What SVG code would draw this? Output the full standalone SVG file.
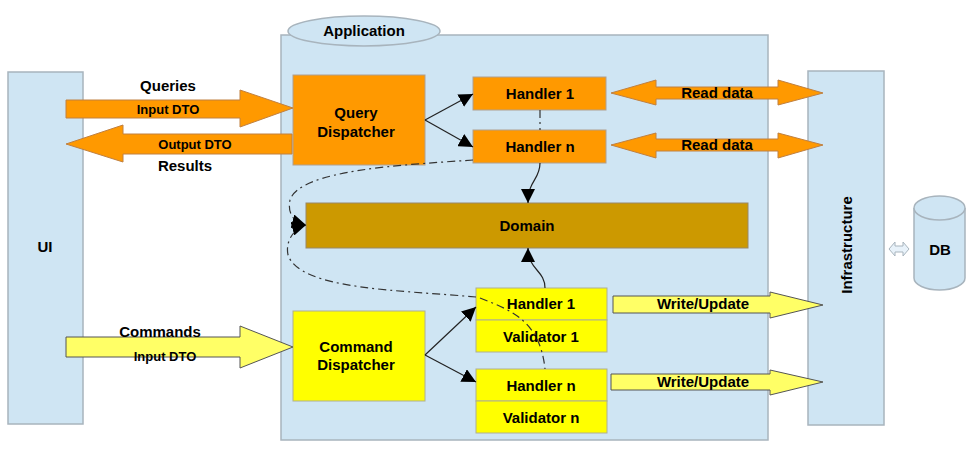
<svg xmlns="http://www.w3.org/2000/svg" width="974" height="449" viewBox="0 0 974 449">
<style>
text{font-family:"Liberation Sans",Arial,sans-serif;font-weight:bold;fill:#000;text-anchor:middle}
.pane{fill:#cfe5f3;stroke:#a8b4bd;stroke-width:1.5}
.or{fill:#ff9900;stroke:#b0a090;stroke-width:1}
.ye{fill:#ffff00;stroke:#b0b090;stroke-width:1}
.ya{fill:#ffff66;stroke:#555;stroke-width:1}
.oa{fill:#ff9900;stroke:#c08040;stroke-width:1}
.c{fill:none;stroke:#222;stroke-width:1.2}
.dd{fill:none;stroke:#333;stroke-width:1.2;stroke-dasharray:8 4 2 4}
</style>
<defs>
<marker id="ah" viewBox="0 0 10 10" refX="10" refY="5" markerWidth="14" markerHeight="14" markerUnits="userSpaceOnUse" orient="auto"><path d="M0,0 L10,5 L0,10 z" fill="#000"/></marker>
</defs>
<g id="ui"><rect class="pane" x="8" y="72" width="75" height="352"/><text x="45" y="252" font-size="15">UI</text></g>
<g id="application"><rect class="pane" x="281" y="35" width="487" height="405"/><ellipse class="pane" cx="364" cy="31" rx="76" ry="15"/><text x="364" y="36" font-size="15">Application</text></g>
<g id="infrastructure"><rect class="pane" x="808" y="71" width="76" height="354"/><text transform="translate(852,245) rotate(-90)" font-size="15">Infrastructure</text></g>
<g id="db"><path class="pane" d="M914,208 v70 a25.5,12 0 0 0 51,0 v-70"/><ellipse class="pane" cx="939.5" cy="208" rx="25.5" ry="12"/><text x="940" y="255" font-size="15">DB</text></g>
<g id="query-dispatcher"><rect class="or" x="293" y="75" width="132" height="90"/><text x="356" y="118" font-size="15">Query</text><text x="356" y="137" font-size="15">Dispatcher</text></g>
<g id="q-handler1"><rect class="or" x="473" y="77" width="133" height="33"/><text x="540" y="99" font-size="15">Handler 1</text></g>
<g id="q-handlern"><rect class="or" x="473" y="130" width="133" height="33"/><text x="540" y="152" font-size="15">Handler n</text></g>
<g id="domain"><rect x="306" y="203" width="442" height="45" fill="#cc9900" stroke="#998866"/><text x="527" y="231" font-size="15">Domain</text></g>
<g id="command-dispatcher"><rect class="ye" x="293" y="311" width="132" height="90"/><text x="356" y="352" font-size="15">Command</text><text x="356" y="370" font-size="15">Dispatcher</text></g>
<g id="c-handler1"><rect class="ye" x="476" y="288" width="131" height="32"/><text x="541" y="309" font-size="15">Handler 1</text><rect class="ye" x="476" y="320" width="131" height="32"/><text x="541" y="342" font-size="15">Validator 1</text></g>
<g id="c-handlern"><rect class="ye" x="476" y="369" width="131" height="32"/><text x="541" y="391" font-size="15">Handler n</text><rect class="ye" x="476" y="401" width="131" height="32"/><text x="541" y="423" font-size="15">Validator n</text></g>
<g id="connectors">
<path class="oa" d="M66,100 H240 V90 L293,108 L240,127 V118 H66 Z"/><text x="168" y="114" font-size="13">Input DTO</text>
<text x="168" y="91" font-size="15">Queries</text>
<path class="oa" d="M292,134 H123 V125 L66,144 L123,162 V154 H292 Z"/><text x="195" y="149" font-size="13">Output DTO</text>
<text x="185" y="171" font-size="15">Results</text>
<path class="ya" d="M66,337 H240 V326 L293,347 L240,368 V357 H66 Z"/><text x="165" y="361" font-size="13">Input DTO</text>
<text x="160" y="337" font-size="15">Commands</text>
<path class="oa" d="M611,93 L656,80 V87 H778 V80 L823,93 L778,105 V99 H656 V105 Z"/><text x="717" y="98" font-size="15">Read data</text>
<path class="oa" d="M611,145 L656,133 V139 H778 V133 L823,145 L778,158 V151 H656 V158 Z"/><text x="717" y="150" font-size="15">Read data</text>
<path class="ya" d="M613,296 H770 V292 L823,305 L770,318 V313 H613 Z"/><text x="703" y="309" font-size="15">Write/Update</text>
<path class="ya" d="M611,374 H770 V370 L823,382 L770,395 V390 H611 Z"/><text x="703" y="387" font-size="15">Write/Update</text>
<path d="M889,249 L895,242 V246 H903 V242 L909,249 L903,256 V252 H895 V256 Z" fill="#e8f2fa" stroke="#a8b4bd"/>
<path class="c" d="M425,120 L473,94" marker-end="url(#ah)"/>
<path class="c" d="M425,120 L473,147" marker-end="url(#ah)"/>
<path class="c" d="M540,163 C540,180 528,180 528,203" marker-end="url(#ah)"/>
<path class="c" d="M545,288 C545,270 528,270 528,248" marker-end="url(#ah)"/>
<path class="c" d="M425,355 L476,307" marker-end="url(#ah)"/>
<path class="c" d="M425,355 L476,382" marker-end="url(#ah)"/>
<path class="dd" d="M473,160 C400,165 300,170 290,200 C287,215 295,222 306,225" marker-end="url(#ah)"/>
<path class="dd" d="M476,297 C400,290 300,290 288,255 C285,240 295,228 306,225" marker-end="url(#ah)"/>
<path class="dd" d="M540,110 V130"/>
<path class="dd" d="M480,298 C510,310 540,320 545,369"/>
</g>
</svg>
